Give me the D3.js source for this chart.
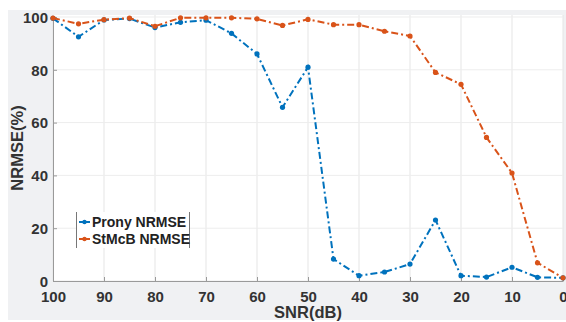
<!DOCTYPE html>
<html>
<head>
<meta charset="utf-8">
<script src="https://cdn.jsdelivr.net/npm/d3@7"></script>
<style>
  body { margin: 0; background: #fff; }
  svg { display: block; font-family: "Liberation Sans", Arial, sans-serif; }
</style>
</head>
<body>
<script>
// data
var snr = [100, 95, 90, 85, 80, 75, 70, 65, 60, 55, 50, 45, 40, 35, 30, 25, 20, 15, 10, 5, 0];
var prony = [99.5, 92.5, 98.9, 99.4, 96.0, 98.0, 98.8, 93.8, 86.0, 65.8, 81.0, 8.3, 2.0, 3.4, 6.4, 23.1, 2.0, 1.5, 5.2, 1.4, 1.2];
var stmcb = [99.6, 97.4, 99.0, 99.6, 96.5, 99.7, 99.7, 99.7, 99.3, 96.8, 99.1, 97.1, 97.1, 94.6, 92.8, 79.0, 74.5, 54.4, 40.9, 6.9, 1.2];
var seriesNames = ["Prony NRMSE", "StMcB NRMSE"];
var seriesColors = ["#0072BD", "#D95319"];
var xTicks = [100, 90, 80, 70, 60, 50, 40, 30, 20, 10, 0];
var yTicks = [0, 20, 40, 60, 80, 100];

var W = 566, H = 322;
var mLeft = 53, mRight = 563, mTop = 17, mBottom = 281;

var svg = d3.select("body").append("svg").attr("width", W).attr("height", H);

// figure background
svg.append("rect").attr("x", 8).attr("y", 10).attr("width", W - 8).attr("height", H - 12)
  .attr("fill", "#f0f1f3");
svg.append("rect").attr("x", mLeft).attr("y", mTop - 2).attr("width", mRight - mLeft).attr("height", mBottom - mTop + 2)
  .attr("fill", "#fff");

var x = d3.scaleLinear().domain([100, 0]).range([mLeft, mRight]);
var y = d3.scaleLinear().domain([0, 100]).range([mBottom, mTop]);

// grid
svg.append("g").selectAll("line").data(xTicks).enter().append("line")
  .attr("x1", d => x(d)).attr("x2", d => x(d)).attr("y1", mTop - 2).attr("y2", mBottom)
  .attr("stroke", "#e5e5e5").attr("stroke-width", 1);
svg.append("g").selectAll("line").data(yTicks).enter().append("line")
  .attr("x1", mLeft).attr("x2", mRight).attr("y1", d => y(d)).attr("y2", d => y(d))
  .attr("stroke", "#ededed").attr("stroke-width", 1);

// axes
var xAxis = svg.append("g").attr("transform", "translate(0," + mBottom + ")")
  .call(d3.axisBottom(x).tickValues(xTicks).tickSizeInner(-4).tickSizeOuter(0).tickPadding(10));
var yAxis = svg.append("g").attr("transform", "translate(" + mLeft + ",0)")
  .call(d3.axisLeft(y).tickValues(yTicks).tickSizeInner(-4).tickSizeOuter(0).tickPadding(5));
[xAxis, yAxis].forEach(function(a) {
  a.select(".domain").attr("stroke", "#9a9a9a");
  a.selectAll(".tick line").attr("stroke", "#9a9a9a");
  a.selectAll("text").attr("fill", "#333").style("font-size", "15px").style("font-weight", "bold")
    .style("font-family", "Liberation Sans, Arial, sans-serif");
});
yAxis.selectAll("text").attr("dy", "0.35em");

// axis labels
svg.append("text").attr("x", x(50)).attr("y", 318).attr("text-anchor", "middle")
  .attr("fill", "#333").style("font-size", "16.5px").style("font-weight", "bold").text("SNR(dB)");
svg.append("text").attr("transform", "translate(23," + (y(50) - 1) + ") rotate(-90)").attr("text-anchor", "middle")
  .attr("fill", "#333").style("font-size", "16.5px").style("font-weight", "bold").text("NRMSE(%)");

// lines
var line = d3.line().x((d, i) => x(snr[i])).y(d => y(d));
[prony, stmcb].forEach(function(vals, k) {
  svg.append("path").datum(vals).attr("d", line).attr("fill", "none")
    .attr("stroke", seriesColors[k]).attr("stroke-width", 2)
    .attr("stroke-dasharray", "7,3,2,3");
  svg.append("g").selectAll("circle").data(vals).enter().append("circle")
    .attr("cx", (d, i) => x(snr[i])).attr("cy", d => y(d)).attr("r", 2.6)
    .attr("fill", seriesColors[k]);
});

// legend
var lg = svg.append("g").attr("transform", "translate(76,212)");
lg.append("rect").attr("width", 114).attr("height", 36).attr("fill", "#fff");
lg.append("line").attr("x1", 0.5).attr("x2", 0.5).attr("y1", 0).attr("y2", 36).attr("stroke", "#777");
lg.append("line").attr("x1", 113.5).attr("x2", 113.5).attr("y1", 0).attr("y2", 36).attr("stroke", "#777");
seriesNames.forEach(function(name, k) {
  var ly = 10 + k * 17;
  lg.append("line").attr("x1", 3).attr("x2", 14).attr("y1", ly).attr("y2", ly)
    .attr("stroke", seriesColors[k]).attr("stroke-width", 2);
  lg.append("circle").attr("cx", 8.5).attr("cy", ly).attr("r", 2.2).attr("fill", seriesColors[k]);
  lg.append("text").attr("x", 16).attr("y", ly).attr("dy", "0.35em")
    .attr("fill", "#222").style("font-size", "14px").style("font-weight", "bold").text(name);
});
</script>
</body>
</html>
